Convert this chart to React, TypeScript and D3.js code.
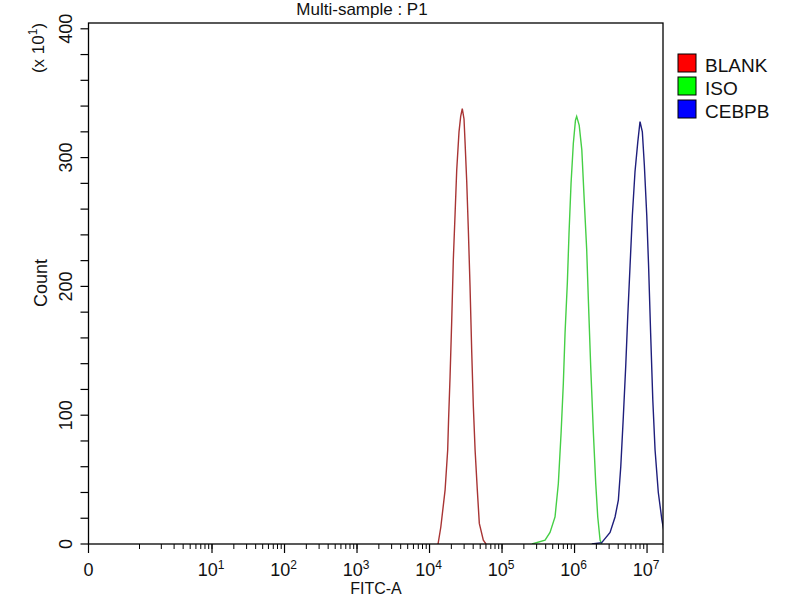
import React from 'react';
import * as d3 from 'd3';

// FITC-A channel values and counts (x10)
const blankFitc = [1.31e4, 1.43e4, 1.64e4, 1.78e4, 1.83e4, 1.92e4, 2.02e4, 2.13e4, 2.25e4, 2.37e4, 2.55e4, 2.69e4, 2.83e4, 2.99e4, 3.09e4, 3.26e4, 3.43e4, 3.62e4, 3.82e4, 4.02e4, 4.25e4, 4.56e4, 4.86e4, 5.52e4, 6.01e4];
const blankCount = [0, 13, 42, 73, 96, 130, 172, 221, 256, 290, 320, 332, 338, 330, 312, 281, 244, 200, 149, 107, 73, 42, 16, 3, 0];

const isoFitc = [2.59e5, 3.92e5, 4.59e5, 5.38e5, 5.98e5, 6.52e5, 7.01e5, 7.4e5, 7.96e5, 8.39e5, 8.95e5, 9.62e5, 1.03e6, 1.07e6, 1.16e6, 1.26e6, 1.36e6, 1.47e6, 1.55e6, 1.67e6, 1.82e6, 1.96e6, 2.09e6, 2.25e6, 2.37e6];
const isoCount = [0, 3, 9, 21, 47, 86, 125, 164, 203, 241, 280, 311, 329, 332, 325, 306, 267, 229, 190, 138, 86, 47, 21, 3, 0];

const cebpbFitc = [1.73e6, 2.37e6, 3.09e6, 3.62e6, 4.02e6, 4.34e6, 4.71e6, 5.08e6, 5.42e6, 5.83e6, 6.27e6, 6.82e6, 7.45e6, 8.0e6, 8.61e6, 9.18e6, 9.91e6, 1.05e7, 1.12e7, 1.2e7, 1.29e7, 1.43e7, 1.6e7, 1.77e7];
const cebpbCount = [0, 1, 9, 21, 34, 60, 99, 138, 177, 216, 255, 289, 312, 328, 320, 294, 255, 216, 164, 112, 73, 40, 19, 5];

const seriesNames = ['BLANK', 'ISO', 'CEBPB'];
const lineColors = ['#a83434', '#45cf45', '#1e1e7c'];
const swatchColors = ['#ff0000', '#00ff00', '#0000ff'];

const yTicks = [0, 100, 200, 300, 400];
const xDecades = [1, 2, 3, 4, 5, 6, 7];

const font = 'Liberation Sans, Arial, sans-serif';

const left = 88.5;
const right = 663;
const top = 23;
const bottom = 544;

const App: React.FC = () => {
  const xLog = d3.scaleLog().domain([1, Math.pow(10, 7.22)]).range([139.5, right]);
  const x = (v: number) => (v <= 0 ? left : xLog(v));
  const y = d3.scaleLinear().domain([0, 404.5]).range([bottom, top]);

  const line = d3
    .line<[number, number]>()
    .x((d) => x(d[0]))
    .y((d) => y(d[1]));

  const series = [
    d3.zip(blankFitc, blankCount) as [number, number][],
    d3.zip(isoFitc, isoCount) as [number, number][],
    d3.zip(cebpbFitc, cebpbCount) as [number, number][],
  ];

  const yMinor = d3.range(0, 401, 20);
  const xMinor: number[] = [];
  for (let k = 0; k < 7; k++) {
    for (let m = 1; m < 10; m++) xMinor.push(m * Math.pow(10, k));
  }

  return (
    <svg width={800} height={600} style={{ position: 'absolute', left: 0, top: 0, background: '#fff' }}>
      <defs>
        <clipPath id="plot">
          <rect x={left} y={top} width={right - left} height={bottom - top} />
        </clipPath>
      </defs>

      <text x={362} y={15} textAnchor="middle" fontFamily={font} fontSize={17} fill="#111">
        Multi-sample : P1
      </text>

      {series.map((s, i) => (
        <path
          key={seriesNames[i]}
          d={line(s) || ''}
          fill="none"
          stroke={lineColors[i]}
          strokeWidth={1.4}
          clipPath="url(#plot)"
        />
      ))}

      <rect x={left} y={top} width={right - left} height={bottom - top} fill="none" stroke="#000" strokeWidth={1.3} />

      {/* y axis */}
      {yMinor.map((t) => (
        <line key={t} x1={left - 8} x2={left} y1={y(t)} y2={y(t)} stroke="#000" strokeWidth={1.2} />
      ))}
      {yTicks.map((t) => (
        <text
          key={t}
          transform={`translate(72,${y(t)}) rotate(-90)`}
          textAnchor="middle"
          fontFamily={font}
          fontSize={18}
          fill="#111"
        >
          {t}
        </text>
      ))}
      <text transform="translate(47,283) rotate(-90)" textAnchor="middle" fontFamily={font} fontSize={18} fill="#111">
        Count
      </text>
      <text transform="translate(44,48) rotate(-90)" textAnchor="middle" fontFamily={font} fontSize={17} fill="#111">
        (x 10
        <tspan fontSize={12} dy={-7}>1</tspan>
        <tspan dy={7}>)</tspan>
      </text>

      {/* x axis */}
      <line x1={left} x2={left} y1={bottom} y2={bottom + 9} stroke="#000" strokeWidth={1.2} />
      <line x1={right} x2={right} y1={bottom} y2={bottom + 9} stroke="#000" strokeWidth={1.2} />
      {xMinor.map((v, i) => (
        <line key={i} x1={x(v)} x2={x(v)} y1={bottom} y2={bottom + 5} stroke="#000" strokeWidth={1} />
      ))}
      {xDecades.map((k) => (
        <line key={k} x1={x(Math.pow(10, k))} x2={x(Math.pow(10, k))} y1={bottom} y2={bottom + 9} stroke="#000" strokeWidth={1.2} />
      ))}
      <text x={x(0)} y={576} textAnchor="middle" fontFamily={font} fontSize={18} fill="#111">
        0
      </text>
      {xDecades.map((k) => (
        <text key={k} x={x(Math.pow(10, k)) - 1} y={576} textAnchor="middle" fontFamily={font} fontSize={18} fill="#111">
          10
          <tspan fontSize={12} dy={-7}>{k}</tspan>
        </text>
      ))}
      <text x={376} y={594} textAnchor="middle" fontFamily={font} fontSize={16} fill="#111">
        FITC-A
      </text>

      {/* legend */}
      {seriesNames.map((n, i) => (
        <g key={n} transform={`translate(678,${54 + i * 23})`}>
          <rect width={18} height={18} fill={swatchColors[i]} stroke="#000" strokeWidth={1} />
          <text x={27} y={18} fontFamily={font} fontSize={19} fill="#111">
            {n}
          </text>
        </g>
      ))}
    </svg>
  );
};

export default App;
